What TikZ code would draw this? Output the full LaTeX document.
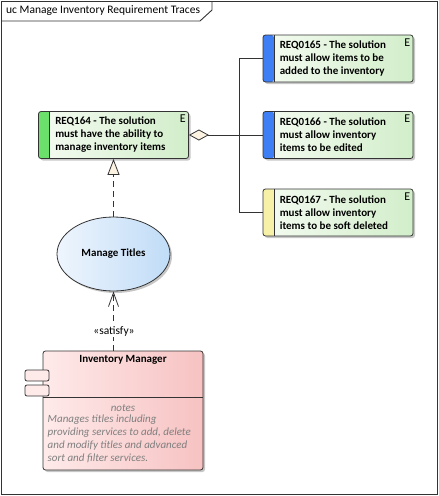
\documentclass[tikz,border=0pt]{standalone}
\usepackage{fontspec}
\setmainfont{Carlito}
\usetikzlibrary{arrows.meta,shadows,shapes.geometric,calc}
\definecolor{reqL}{HTML}{F4FBF1}
\definecolor{reqR}{HTML}{D2EECA}
\definecolor{barGreen}{HTML}{6BE06B}
\definecolor{barBlue}{HTML}{3F7FF5}
\definecolor{barYellow}{HTML}{F6F1A6}
\definecolor{ucL}{HTML}{EEF5FD}
\definecolor{ucR}{HTML}{C0DCF7}
\definecolor{cmpL}{HTML}{FFEAEA}
\definecolor{cmpR}{HTML}{F7C2C2}
\definecolor{cream}{HTML}{FDF3E3}
\definecolor{edge}{HTML}{333333}
\definecolor{notegrey}{HTML}{7F7F7F}
\begin{document}
\begin{tikzpicture}[x=1pt,y=-1pt,
  shade/.style={drop shadow={shadow xshift=2pt,shadow yshift=-2pt,opacity=0.22,fill=black}},
  reqbox/.style={draw=edge,line width=0.8pt,rounded corners=2.5pt,minimum width=150pt,minimum height=47pt,
    inner sep=0pt,shade,left color=reqL,right color=reqR,
    path picture={\fill[#1] (path picture bounding box.north west) rectangle ([xshift=11pt]path picture bounding box.south west);
      \draw[edge,line width=0.8pt] ([xshift=11pt]path picture bounding box.north west) -- ([xshift=11pt]path picture bounding box.south west);}},
  reqtext/.style={anchor=west,align=left,inner sep=0pt,font=\fontsize{11pt}{13pt}\selectfont\bfseries},
  eicon/.style={inner sep=0pt,font=\fontsize{12pt}{12pt}\selectfont},
  line/.style={draw=edge,line width=0.8pt},
]
\useasboundingbox (0,0) rectangle (439,496);
% frame
\draw[edge,line width=0.9pt] (1.5,1.5) rectangle (437.5,494.5);
\draw[edge,line width=0.9pt] (1.5,21) -- (200,21) -- (212,10) -- (212,1.5);
\node[anchor=west,inner sep=0pt,font=\fontsize{11.5pt}{12pt}\selectfont] (title) at (6,11) {uc Manage Inventory Requirement Traces};

% requirements
\node[reqbox=barGreen] (r164) at (113.5,135) {};
\node[reqtext] (t164) at ([xshift=17pt]r164.west) {REQ164 - The solution\\must have the ability to\\manage inventory items};
\node[eicon] (e164) at ([xshift=-6pt,yshift=-8pt]r164.north east) {E};

\node[reqbox=barBlue] (r165) at (338,58.5) {};
\node[reqtext] (t165) at ([xshift=17pt]r165.west) {REQ0165 - The solution\\must allow items to be\\added to the inventory};
\node[eicon] (e165) at ([xshift=-6pt,yshift=-8pt]r165.north east) {E};

\node[reqbox=barBlue] (r166) at (338,135) {};
\node[reqtext] (t166) at ([xshift=17pt]r166.west) {REQ0166 - The solution\\must allow inventory\\items to be edited};
\node[eicon] (e166) at ([xshift=-6pt,yshift=-8pt]r166.north east) {E};

\node[reqbox=barYellow] (r167) at (338,212.5) {};
\node[reqtext] (t167) at ([xshift=17pt]r167.west) {REQ0167 - The solution\\must allow inventory\\items to be soft deleted};
\node[eicon] (e167) at ([xshift=-6pt,yshift=-8pt]r167.north east) {E};

% aggregation connectors
\coordinate (jn) at (239,135);
\draw[line,-{Diamond[length=20pt,width=11pt,fill=cream]}] (r166.west) -- (r164.east);
\draw[line] (r165.west) -| (jn);
\draw[line] (r167.west) -| (jn);

% use case
\node[ellipse,draw=edge,line width=0.8pt,minimum width=113pt,minimum height=74pt,inner sep=0pt,shade,left color=ucL,right color=ucR,
  font=\fontsize{11pt}{13pt}\selectfont\bfseries] (uc) at (113.5,254) {Manage Titles};
\draw[line,dash pattern=on 6pt off 4pt,-{Triangle[length=16pt,width=12pt,fill=cream]}] (uc.north) -- (r164.south);

% component
\node[draw=edge,line width=0.8pt,rounded corners=2.5pt,minimum width=160pt,minimum height=119pt,inner sep=0pt,shade,
  left color=cmpL,right color=cmpR] (im) at (123,410.5) {};
\coordinate (divL) at (43,397);
\draw[line] (divL) -- (divL -| im.east);
\node[inner sep=0pt,font=\fontsize{11pt}{13pt}\selectfont\bfseries] (imt) at (123,360) {Inventory Manager};
\node[inner sep=0pt,font=\fontsize{11pt}{13pt}\selectfont\itshape,text=notegrey] (notes) at (123,408) {notes};
\node[anchor=north west,align=left,inner sep=0pt,font=\fontsize{11pt}{12.8pt}\selectfont\itshape,text=notegrey] (notetxt) at (47.5,415)
  {Manages titles including\\providing services to add, delete\\and modify titles and advanced\\sort and filter services.};
\node[draw=edge,line width=0.8pt,rounded corners=2pt,fill=cmpL,minimum width=24pt,minimum height=11pt,inner sep=0pt] (p1) at (37,375.5) {};
\node[draw=edge,line width=0.8pt,rounded corners=2pt,fill=cmpL,minimum width=24pt,minimum height=11pt,inner sep=0pt] (p2) at (37,390.5) {};

% satisfy
\draw[line,dash pattern=on 6pt off 4pt,-{Straight Barb[length=14pt,width=10pt]}] (uc.south |- im.north) -- (uc.south);
\node[fill=white,inner sep=1pt,font=\fontsize{11.5pt}{12pt}\selectfont] (sat) at (114,331) {«satisfy»};
\end{tikzpicture}
\end{document}
